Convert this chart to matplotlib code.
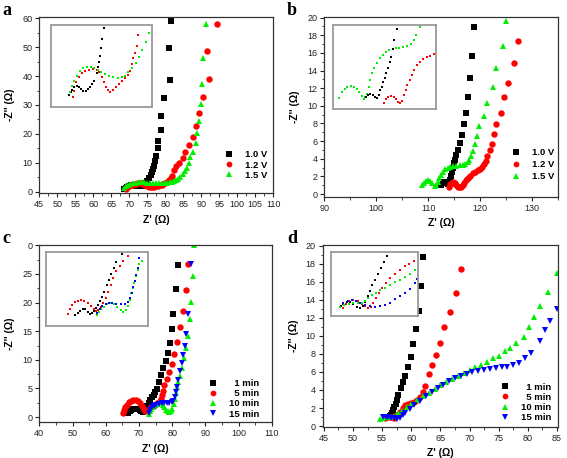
import matplotlib
matplotlib.use('Agg')
import matplotlib.pyplot as plt
from matplotlib.ticker import MultipleLocator

plt.rcParams['font.family'] = ['Liberation Sans', 'DejaVu Sans']

# ---------------- panel a (main) ----------------
a_x_10 = [68.5,69,69.5,70,70.5,71,71.5,72,72.5,73,73.5,74,74.5,75,75.5,75.9,76.3,76.6,76.9,77.2,77.5,77.9,78.1,78.8,78.8,79.7,81.3,80.9,81.5]
a_y_10 = [1.0,1.3,1.6,1.9,2.1,2.2,2.1,1.9,1.8,1.8,2.0,2.4,3.0,3.8,4.6,5.6,6.6,7.8,9.0,10.5,12.3,15.1,17.6,21.2,26.2,32.4,38.8,49.6,59.2]
a_x_12 = [69.0,69.5,70,70.5,71,71.5,72,72.5,73,73.5,74,74.5,75,75.5,76,76.5,77,77.5,78,78.5,79,79.5,80,80.5,81,81.5,82,82.4,83.1,83.9,84.8,85.6,86.6,87.6,88.5,89.4,90.6,92.2,91.6,94.3]
a_y_12 = [1.0,1.5,1.9,2.2,2.4,2.6,2.7,2.8,2.8,2.7,2.5,2.2,1.9,1.6,1.5,1.5,1.6,1.8,2.0,2.2,2.4,2.7,3.0,3.4,3.9,4.6,5.4,7.3,8.7,9.8,11.5,13.6,16.1,19.0,22.7,27.3,32.6,39.0,48.7,58.2]
a_x_15 = [68.5,69,69.6,70.3,71,71.8,72.6,73.4,74.2,75,75.8,76.6,77.4,78.2,79,79.8,80.5,81.2,81.8,82.4,83,83.6,84.2,84.8,85.4,86.0,86.6,87.0,87.8,88.4,88.9,89.4,89.8,90.2,90.6,91.3]
a_y_15 = [1.4,1.8,2.2,2.6,2.9,3.1,3.2,3.2,3.2,3.1,3.0,2.9,2.8,2.8,2.8,2.9,3.0,3.2,3.4,3.7,4.0,4.5,5.2,6.0,7.0,8.2,9.8,12.1,13.8,16.7,20.2,24.6,30.2,37.3,46.4,57.9]

# panel a inset (arbitrary units)
ia_x_10 = [58,62,67,73,80,87,93,100,107,113,120,127,133,140,145,148,150,153,157,162]
ia_y_10 = [37,45,53,60,64,62,55,50,50,55,62,70,80,102,120,137,155,178,205,238]
ia_x_12 = [68,73,78,86,95,106,118,130,140,148,155,162,168,175,181,188,197,207,217,225,233,240,245,250,255,260,265]
ia_y_12 = [32,50,75,90,102,110,113,115,112,105,90,75,62,52,47,53,62,70,78,87,98,110,130,147,162,185,217]
ia_x_15 = [60,65,72,80,90,100,112,122,132,143,153,165,177,190,203,215,225,235,247,257,267,277,287,297]
ia_y_15 = [45,65,80,95,110,117,120,120,117,112,105,100,95,90,88,90,95,105,117,132,150,172,195,223]

# ---------------- panel b (main) ----------------
b_x_10 = [112.5,112.8,113.1,113.4,113.7,114.0,114.2,114.4,114.6,114.8,115.0,115.1,115.3,115.7,116.0,116.4,116.8,117.2,117.6,118.0,118.4,118.7]
b_y_10 = [1.0,1.3,1.4,1.3,1.1,1.2,1.6,2.0,2.5,3.0,3.5,3.9,4.4,5.0,5.8,6.7,7.9,9.2,11.0,13.1,15.7,18.9]
b_x_12 = [113.9,114.2,114.5,114.8,115.1,115.4,115.7,116.0,116.3,116.6,116.9,117.2,117.6,118.0,118.5,119.0,119.5,120.0,120.4,120.7,121.0,121.3,121.8,122.2,122.6,123.1,123.9,124.5,125.3,126.5,127.3]
b_y_12 = [0.85,1.1,1.3,1.35,1.25,1.0,0.8,0.75,0.85,1.05,1.3,1.55,1.85,2.1,2.35,2.55,2.7,2.85,3.1,3.4,3.8,4.3,5.0,5.7,6.8,7.9,9.2,11.0,12.6,14.8,17.4]
b_x_15 = [108.8,109.2,109.6,110.0,110.4,110.8,111.2,111.5,111.8,112.1,112.4,112.8,113.2,113.7,114.2,114.8,115.4,116.0,116.6,117.1,117.6,117.9,118.2,118.6,118.9,119.3,119.8,120.7,121.3,122.4,123.1,124.3,125.0]
b_y_15 = [1.0,1.3,1.5,1.55,1.5,1.2,0.9,1.0,1.4,1.8,2.2,2.5,2.8,3.0,3.1,3.15,3.2,3.25,3.3,3.4,3.6,3.9,4.3,4.9,5.7,6.6,7.7,8.9,10.3,12.1,14.3,16.8,19.6]

ib_x_15 = [22,30,37,45,55,65,73,80,87,93,98,103,108,113,118,125,133,142,150,158,168,178,188,198,210,220,232,240,248,258]
ib_y_15 = [32,50,58,65,67,65,58,50,38,30,35,45,65,85,105,120,135,150,160,167,173,177,178,180,182,185,190,202,218,240]
ib_x_10 = [100,106,113,120,127,133,138,142,146,150,155,160,165,170,174,178,183,190]
ib_y_10 = [35,42,45,42,35,32,40,55,65,80,90,105,122,138,153,175,202,235]
ib_x_12 = [152,158,165,173,181,188,195,201,207,212,217,222,228,235,242,250,258,268,278,288,300]
ib_y_12 = [17,28,35,38,35,28,20,17,25,40,55,70,85,100,115,128,138,147,153,157,162]

# ---------------- panel c (main) ----------------
c_x_1 = [66.8,67.2,67.7,68.2,68.7,69.2,69.7,70.2,70.7,71.2,71.7,72.1,72.5,72.9,73.4,73.9,74.4,74.8,75.3,76.0,76.7,77.3,78.1,78.7,79.4,79.9,80.4,81.2,81.9]
c_y_1 = [0.8,1.1,1.3,1.45,1.5,1.5,1.4,1.2,1.0,0.9,1.0,1.4,1.9,2.5,3.0,3.5,3.9,4.3,4.9,6.1,7.3,8.6,9.8,11.2,13.0,15.3,18.0,22.3,26.5]
c_x_5 = [65.2,65.5,65.9,66.4,67.0,67.6,68.3,69.0,69.7,70.3,70.9,71.4,71.9,72.4,73.0,73.6,74.2,74.8,75.4,76.0,76.5,76.9,77.3,77.7,78.4,79.1,79.9,80.6,81.4,82.4,83.4,84.2,84.9]
c_y_5 = [0.8,1.3,1.8,2.2,2.6,2.8,2.95,2.95,2.8,2.5,2.0,1.5,1.1,1.2,1.5,1.8,2.0,2.2,2.4,2.7,3.2,3.8,4.5,5.6,6.6,7.9,9.3,11.0,13.1,15.7,18.5,22.2,26.7]
c_x_10 = [73.0,73.3,73.7,74.2,74.8,75.4,76.0,76.6,77.2,77.7,78.2,78.7,79.2,79.7,80.1,80.5,80.8,81.2,81.6,81.9,82.4,83.1,83.6,84.1,84.7,85.4,85.7,86.4,86.6]
c_y_10 = [0.5,1.0,1.4,1.8,2.1,2.3,2.4,2.4,2.2,1.8,1.3,1.0,0.9,1.0,1.5,2.3,3.2,4.2,5.2,6.2,7.2,8.6,10.3,12.1,14.1,17.2,20.1,24.7,30.0]
c_x_15 = [73.0,73.4,73.9,74.5,75.2,76.0,76.8,77.6,78.4,79.2,79.9,80.4,80.8,81.1,81.4,81.9,82.4,82.9,83.4,83.8,84.3,84.9,85.7]
c_y_15 = [0.8,1.3,1.7,2.0,2.2,2.35,2.4,2.4,2.4,2.45,2.6,2.9,3.5,4.3,5.2,6.5,8.0,9.5,10.8,12.5,14.5,18.0,26.7]

ic_x_1 = [90,97,105,113,120,127,133,140,146,152,157,162,168,175,183,190,197,205,212,228]
ic_y_1 = [35,42,48,53,52,45,38,40,48,55,65,77,90,105,125,140,157,175,192,215]
ic_x_5 = [68,73,80,88,97,107,117,127,137,145,152,158,165,172,180,188,195,203,212,222,232,248]
ic_y_5 = [38,53,65,73,78,80,78,72,62,53,47,50,60,70,85,105,125,145,165,180,195,210]
ic_x_10 = [155,160,167,175,185,195,205,215,225,233,240,247,252,256,260,265,270,275,280,287]
ic_y_10 = [35,45,53,60,67,70,67,60,50,45,50,63,80,100,115,130,150,170,187,195]
ic_x_15 = [155,162,170,180,190,200,212,225,237,247,253,258,262,266,270,275,280]
ic_y_15 = [40,53,62,67,70,70,68,67,68,73,85,100,117,135,153,175,203]

# ---------------- panel d (main) ----------------
d_x_1 = [55.8,56.0,56.3,56.5,56.7,56.9,57.1,57.3,57.5,57.8,58.2,58.6,58.9,59.5,59.9,60.3,60.8,61.3,61.6,62.0]
d_y_1 = [1.0,1.05,1.1,1.2,1.5,1.8,2.1,2.5,2.9,3.5,4.2,4.9,5.6,6.6,7.7,9.1,10.8,12.8,15.5,18.7]
d_x_5 = [55.5,55.9,56.3,56.7,57.1,57.5,58.0,58.5,59.0,59.5,60.0,60.5,61.0,61.5,62.0,62.4,63.0,63.6,64.2,64.9,65.7,66.6,67.7,68.6]
d_y_5 = [0.9,1.0,1.0,1.0,0.95,1.2,1.6,2.0,2.3,2.5,2.6,2.7,2.9,3.2,3.8,4.4,5.8,6.8,7.9,9.2,11.0,12.6,14.8,17.4]
d_x_10 = [54.7,55.2,55.8,56.4,57.0,57.7,58.4,59.2,60.0,61.0,62.0,63.0,64.0,65.0,66.0,67.0,68.0,69.0,70.0,71.0,72.0,73.0,74.0,75.0,76.0,77.0,78.0,79.3,80.2,81.0,82.0,83.4,85.0]
d_y_10 = [0.8,0.95,1.0,1.05,1.15,1.4,1.7,2.1,2.5,2.9,3.3,3.7,4.1,4.5,4.9,5.2,5.6,5.9,6.2,6.5,6.8,7.1,7.5,7.8,8.3,8.7,9.2,9.9,11.0,12.1,13.3,14.9,17.0]
d_x_15 = [55.2,55.6,56.0,56.5,57.0,57.5,58.0,58.5,59.0,59.7,60.5,61.5,62.5,63.5,64.5,65.5,66.5,67.5,68.5,69.5,70.5,71.5,72.5,73.5,74.5,75.5,76.5,77.5,78.5,79.5,80.5,82.0,83.0,83.8,85.0]
d_y_15 = [1.0,1.0,1.0,0.95,0.85,0.8,0.9,1.2,1.5,1.9,2.3,2.8,3.3,3.8,4.2,4.6,5.0,5.3,5.6,5.8,6.0,6.1,6.2,6.3,6.4,6.5,6.6,6.8,7.0,7.5,8.1,9.4,10.6,11.7,13.0]

id_x_1 = [30,37,47,57,67,77,87,95,102,110,117,124,132,140,148,157,167]
id_y_1 = [29,37,43,41,35,28,25,31,43,60,75,93,110,127,145,162,180]
id_x_5 = [37,45,55,67,80,92,102,112,120,127,134,142,152,164,177,192,207,222,234,247]
id_y_5 = [25,37,45,48,45,37,29,24,27,40,55,70,85,100,115,127,140,152,158,165]
id_x_10 = [27,40,54,67,80,92,102,112,122,134,147,162,177,192,207,222,237,252]
id_y_10 = [28,33,37,39,38,40,45,53,62,70,77,85,93,102,110,118,128,140]
id_x_15 = [37,50,62,74,87,102,117,132,147,162,177,192,207,222,237,252,257]
id_y_15 = [40,45,47,45,40,33,29,28,29,33,40,50,60,70,83,100,112]

labels_v = ['1.0 V', '1.2 V', '1.5 V']
labels_t = ['\u20071 min', '\u20075 min', '10 min', '15 min']
colors = ['#000000', '#ff0000', '#00ee00', '#0000ff']
markers = ['s', 'o', '^', 'v']

fig = plt.figure(figsize=(5.67, 4.58), dpi=100)


def style(ax, xlim, ylim, xmaj, xmin, ymaj, ymin):
    ax.set_xlim(xlim)
    ax.set_ylim(ylim)
    ax.xaxis.set_major_locator(MultipleLocator(xmaj))
    ax.xaxis.set_minor_locator(MultipleLocator(xmin))
    ax.yaxis.set_major_locator(MultipleLocator(ymaj))
    ax.yaxis.set_minor_locator(MultipleLocator(ymin))
    ax.tick_params(which='both', direction='out', top=False, right=False,
                   labelsize=6.5, pad=2, colors='#222222')
    ax.tick_params(which='major', length=3, width=0.8)
    ax.tick_params(which='minor', length=1.8, width=0.6)
    for s in ax.spines.values():
        s.set_linewidth(0.9)
        s.set_color('#333333')
    ax.set_xlabel("Z' (Ω)", fontsize=7.5, fontweight='bold', labelpad=4)
    ax.set_ylabel("-Z'' (Ω)", fontsize=7.5, fontweight='bold', labelpad=5)


def inset(rect, xlim, ylim, series):
    ai = fig.add_axes(rect)
    ai.set_xlim(xlim)
    ai.set_ylim(ylim)
    ai.set_xticks([])
    ai.set_yticks([])
    for s in ai.spines.values():
        s.set_color('#9a9a9a')
        s.set_linewidth(1.3)
    for (x, y, c, m) in series:
        ai.plot(x, y, ls='none', marker=m, ms=1.9, mfc=c, mec=c, mew=0)
    return ai


def main(ax, series, labels, ms=4.6):
    hs = []
    for (x, y, c, m), lab in zip(series, labels):
        h, = ax.plot(x, y, ls='none', marker=m, ms=ms, mfc=c, mec=c, mew=0, label=lab)
        hs.append(h)
    return hs


leg_kw = dict(frameon=False, handlelength=1.0, handletextpad=1.2,
              labelspacing=0.12, borderpad=0.3, markerscale=0.9,
              prop=dict(weight='bold', size=6.8))

# ---- a ----
ax_a = fig.add_axes([0.0693, 0.578, 0.4127, 0.3856])
style(ax_a, (45, 110), (-0.6, 60.6), 5, 2.5, 10, 5)
main(ax_a, [(a_x_10, a_y_10, colors[0], 's'), (a_x_12, a_y_12, colors[1], 'o'),
            (a_x_15, a_y_15, colors[2], '^')], labels_v)
ax_a.legend(loc='upper left', bbox_to_anchor=(0.76, 0.285), **leg_kw)
inset([0.090, 0.7664, 0.178, 0.179], (3, 306), (1, 247),
      [(ia_x_10, ia_y_10, colors[0], 's'), (ia_x_12, ia_y_12, colors[1], 's'),
       (ia_x_15, ia_y_15, colors[2], 's')])

# ---- b ----
ax_b = fig.add_axes([0.572, 0.5705, 0.4127, 0.393])
style(ax_b, (90, 135), (-0.3, 20.1), 10, 5, 2, 1)
main(ax_b, [(b_x_10, b_y_10, colors[0], 's'), (b_x_12, b_y_12, colors[1], 'o'),
            (b_x_15, b_y_15, colors[2], '^')], labels_v)
leg_b = dict(leg_kw)
leg_b['labelspacing'] = 0.3
ax_b.legend(loc='upper left', bbox_to_anchor=(0.765, 0.31), **leg_b)
inset([0.5873, 0.762, 0.1817, 0.1834], (3, 306), (0, 247),
      [(ib_x_15, ib_y_15, colors[2], 's'), (ib_x_10, ib_y_10, colors[0], 's'),
       (ib_x_12, ib_y_12, colors[1], 's')])

# ---- c ----
ax_c = fig.add_axes([0.0693, 0.078, 0.41, 0.3878])
style(ax_c, (40, 110), (-0.9, 30.1), 10, 5, 5, 2.5)
ax_c.set_yticks([0, 5, 10, 15, 20, 25, 30])
ax_c.set_yticklabels(['0', '5', '10', '15', '20', '25', '0'])
main(ax_c, [(c_x_1, c_y_1, colors[0], 's'), (c_x_5, c_y_5, colors[1], 'o'),
            (c_x_10, c_y_10, colors[2], '^'), (c_x_15, c_y_15, colors[3], 'v')], labels_t)
ax_c.legend(loc='upper left', bbox_to_anchor=(0.695, 0.285), **leg_kw)
inset([0.0811, 0.2882, 0.1799, 0.1616], (3, 306), (3, 222),
      [(ic_x_1, ic_y_1, colors[0], 's'), (ic_x_5, ic_y_5, colors[1], 's'),
       (ic_x_10, ic_y_10, colors[2], 's'), (ic_x_15, ic_y_15, colors[3], 's')])

# ---- d ----
ax_d = fig.add_axes([0.569, 0.0677, 0.4155, 0.398])
style(ax_d, (44.8, 85.2), (-0.1, 20.1), 5, 2.5, 2, 1)
main(ax_d, [(d_x_1, d_y_1, colors[0], 's'), (d_x_5, d_y_5, colors[1], 'o'),
            (d_x_10, d_y_10, colors[2], '^'), (d_x_15, d_y_15, colors[3], 'v')], labels_t)
ax_d.legend(loc='upper left', bbox_to_anchor=(0.72, 0.285), **leg_kw)
inset([0.5838, 0.31, 0.1534, 0.1397], (0, 260), (0, 193),
      [(id_x_1, id_y_1, colors[0], 's'), (id_x_5, id_y_5, colors[1], 's'),
       (id_x_10, id_y_10, colors[2], 's'), (id_x_15, id_y_15, colors[3], 's')])

# panel letters
for x, y, t in [(0.005, 0.995, 'a'), (0.506, 0.995, 'b'), (0.005, 0.497, 'c'), (0.506, 0.497, 'd')]:
    fig.text(x, y, t, fontsize=13, fontweight='bold', family='Liberation Serif', va='top', ha='left')

fig.savefig('out.png', dpi=100)
